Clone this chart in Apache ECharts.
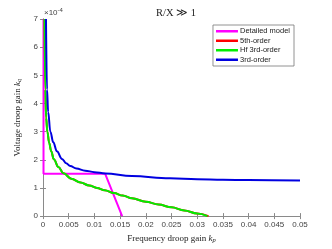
<!DOCTYPE html>
<html><head><meta charset="utf-8">
<script src="https://cdn.jsdelivr.net/npm/echarts@6/dist/echarts.min.js"></script>
<style>html,body{margin:0;padding:0;background:#fff}#c{width:332px;height:249px}</style>
</head><body><div id="c"></div>
<script>
// values of k_q are in units of 1e-4
var xTicks = [0,0.005,0.01,0.015,0.02,0.025,0.03,0.035,0.04,0.045,0.05];
var yTicks = [0,1,2,3,4,5,6,7];
var detailedX = [0.0001, 0.0001, 0.0121, 0.0154];
var detailedY = [7.0, 1.5, 1.5, 0.0];
var hfX = [0.0003,0.00045,0.0006,0.00085,0.0012,0.0016,0.0021,0.003,0.004,0.0055,0.0073,0.009,0.0105,0.012,0.0138,0.0155,0.0173,0.02,0.0225,0.025,0.0275,0.03,0.032];
var hfY = [7.0,4.5,3.5,3.0,2.6,2.3,2.02,1.74,1.52,1.33,1.19,1.09,1.0,0.92,0.82,0.73,0.63,0.51,0.41,0.31,0.2,0.09,0.0];
var fifthX = [0.0003,0.00045,0.0006,0.00085,0.0012,0.0016,0.0021,0.003,0.004,0.0055,0.0073,0.009,0.0105,0.012,0.0138,0.0155,0.0173,0.02,0.0225,0.025,0.0275,0.03,0.0322];
var fifthY = [7.0,4.5,3.5,3.0,2.6,2.3,2.02,1.74,1.52,1.33,1.19,1.09,1.0,0.92,0.82,0.73,0.63,0.51,0.41,0.31,0.2,0.09,0.0];
var thirdX = [0.00058,0.00078,0.001,0.00143,0.002,0.0027,0.0037,0.0045,0.0053,0.0065,0.0082,0.01,0.0121,0.0173,0.0247,0.03,0.035,0.04,0.05];
var thirdY = [7.0,4.5,3.7,3.0,2.62,2.3,2.03,1.88,1.78,1.69,1.615,1.56,1.515,1.42,1.34,1.31,1.29,1.28,1.26];
var names = ['Detailed model','5th-order','Hf 3rd-order','3rd-order'];
var colors = ['#ff00ff','#ff0000','#00ee00','#0000e0'];

function pairs(xs, ys){ return xs.map(function(x,i){return [x, ys[i]];}); }
var sets = [[detailedX,detailedY],[fifthX,fifthY],[hfX,hfY],[thirdX,thirdY]];

var chart = echarts.init(document.getElementById('c'), null, {renderer:'canvas'});
var axisCol = '#8a8a8a', labCol = '#444';
var serif = 'Liberation Serif, DejaVu Serif, serif';
var sans = 'Liberation Sans, Arial, sans-serif';
var nameRich = {t:{fontFamily:serif,fontSize:9,color:'#222'},k:{fontFamily:serif,fontSize:9,fontStyle:'italic',color:'#222'},s:{fontFamily:serif,fontSize:6.5,fontStyle:'italic',color:'#222',verticalAlign:'bottom',padding:[4,0,0,0]}};
chart.setOption({
  animation:false,
  backgroundColor:'#fff',
  title:{text:'R/X \u226B 1', left:171, top:3, textAlign:'center',
    textStyle:{fontFamily:serif, fontSize:10.5, fontWeight:'normal', color:'#222'}},
  grid:{left:43, right:32, top:19, bottom:28},
  legend:{right:38, top:25, orient:'vertical', icon:'rect', itemWidth:22, itemHeight:2.5, itemGap:1,
    padding:[2,4,2,3], borderColor:'#777', borderWidth:0.8, backgroundColor:'#fff',
    textStyle:{fontFamily:sans, fontSize:7.5, lineHeight:8.5, color:'#222', padding:[0,0,0,-3]}, data:names},
  graphic:[{type:'text', left:44, top:7, style:{
    rich:{a:{fontFamily:sans,fontSize:8,fill:'#444'}, s:{fontFamily:sans,fontSize:6,fill:'#444',verticalAlign:'top',padding:[0,0,5,0]}},
    text:'{a|\u00d710}{s|-4}'}}],
  xAxis:[{type:'value', min:0, max:0.05, interval:0.005,
      name:'{t|Frequency droop gain }{k|k}{s|p}', nameLocation:'middle', nameGap:13,
      nameTextStyle:{rich:nameRich},
      axisLine:{lineStyle:{color:axisCol}}, axisTick:{inside:true,length:3,lineStyle:{color:axisCol}},
      axisLabel:{fontFamily:sans, fontSize:8, color:labCol, margin:5, formatter:function(v){return String(+v.toFixed(4));}},
      splitLine:{show:false}},
    {type:'value', position:'top', min:0, max:0.05, interval:0.005,
      axisLine:{lineStyle:{color:axisCol}}, axisTick:{inside:true,length:3,lineStyle:{color:axisCol}},
      axisLabel:{show:false}, splitLine:{show:false}}],
  yAxis:[{type:'value', min:0, max:7, interval:1,
      name:'{t|Voltage droop gain }{k|k}{s|q}', nameLocation:'middle', nameGap:11,
      nameTextStyle:{rich:nameRich},
      axisLine:{show:true,lineStyle:{color:axisCol}}, axisTick:{show:true,inside:true,length:3,lineStyle:{color:axisCol}},
      axisLabel:{fontFamily:sans, fontSize:8, color:labCol, margin:5}, splitLine:{show:false}},
    {type:'value', position:'right', min:0, max:7, interval:1,
      axisLine:{show:true,lineStyle:{color:axisCol}}, axisTick:{show:true,inside:true,length:3,lineStyle:{color:axisCol}},
      axisLabel:{show:false}, splitLine:{show:false}}],
  series: sets.map(function(s,i){
    return {name:names[i], type:'line', data:pairs(s[0],s[1]), showSymbol:false, symbol:'none',
      smooth: i===0 ? false : 0.4, smoothMonotone:'x', z:2+i, clip:true,
      lineStyle:{color:colors[i], width:2}, itemStyle:{color:colors[i]}};
  })
});
</script></body></html>
